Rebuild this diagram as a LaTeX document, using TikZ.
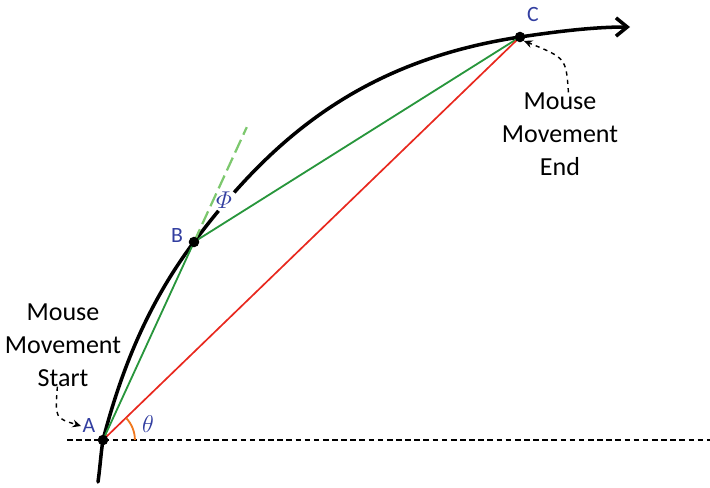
\documentclass[tikz,border=0pt]{standalone}
\usepackage{amsmath}
\usepackage{fontspec}
\setmainfont{Carlito}
\usepackage{tikz}
\usetikzlibrary{arrows.meta,calc}
\definecolor{AzulLetra}{RGB}{50,62,160}
\definecolor{VerdeCuerda}{RGB}{40,150,60}
\definecolor{VerdeTang}{RGB}{125,200,110}
\definecolor{RojoCuerda}{RGB}{232,40,30}
\definecolor{NaranjaAng}{RGB}{240,120,30}
\tikzset{
  curva/.style={line width=2.5pt,line cap=round},
  punto/.style={circle,fill=black,inner sep=0pt,minimum size=7.5pt},
  letra/.style={text=AzulLetra,font=\fontsize{15.5}{18}\selectfont,inner sep=1pt},
  griega/.style={text=AzulLetra,font=\fontsize{16}{19}\selectfont,inner sep=1pt},
  texto/.style={align=center,font=\fontsize{18.5}{23.4}\selectfont,inner sep=0pt},
  flecha/.style={dashed,line width=1pt,-{Stealth[length=6pt,width=5.5pt]}}
}

\begin{document}
\begin{tikzpicture}[x=0.025cm,y=-0.025cm]
  \useasboundingbox (0,0) rectangle (710,487);
  \coordinate (A) at (103,440);
  \coordinate (B) at (194,242);
  \coordinate (C) at (520,37);
  \coordinate (T) at ($(A)!1.58!(B)$);
  \coordinate (H0) at (67,440);
  \coordinate (H1) at (710,440);

  \draw[thick,dash pattern=on 4pt off 2.5pt] (H0) -- (H1);

  \draw[curva,-{Straight Barb[length=8pt,width=13pt]}] (98,482)
    .. controls (100,468) and (101,452) .. (A)
    .. controls (122,367) and (149,302) .. (B)
    .. controls (272,138) and (362,61) .. (C)
    .. controls (560,31) and (595,27) .. (630,27);
  \draw[white,line width=5pt] (219,211) -- (234,192.5);

  \draw[VerdeTang,line width=1.6pt,dash pattern=on 10pt off 4pt] (B) -- (T);
  \draw[VerdeCuerda,line width=1.3pt] (A) -- (B) -- (C);
  \draw[RojoCuerda,line width=1.2pt] (A) -- (C);
  \draw[NaranjaAng,line width=1.3pt] ([xshift=22.7pt]A) arc[start angle=0,end angle=43,radius=22.7pt];

  \node[punto] (pA) at (A) {};
  \node[punto] (pB) at (B) {};
  \node[punto] (pC) at (C) {};

  \node[letra] (lblA) at (89,426) {A};
  \node[letra] (lblB) at (177,236) {B};
  \node[letra] (lblC) at (533,15) {C};
  \node[griega] (theta) at (148,424) {$\theta$};
  \node[griega] (phi) at (224,200) {$\varPhi$};

  \node[texto] (inicio) at (63,345) {Mouse\\Movement\\Start};
  \node[texto] (fin) at (560,134) {Mouse\\Movement\\End};

  \draw[flecha] ([xshift=-4pt]inicio.south) .. controls (55,418) .. (lblA.west);
  \draw[flecha] ([xshift=6pt]fin.north) .. controls (566,58) .. (pC.south east);
\end{tikzpicture}
\end{document}
